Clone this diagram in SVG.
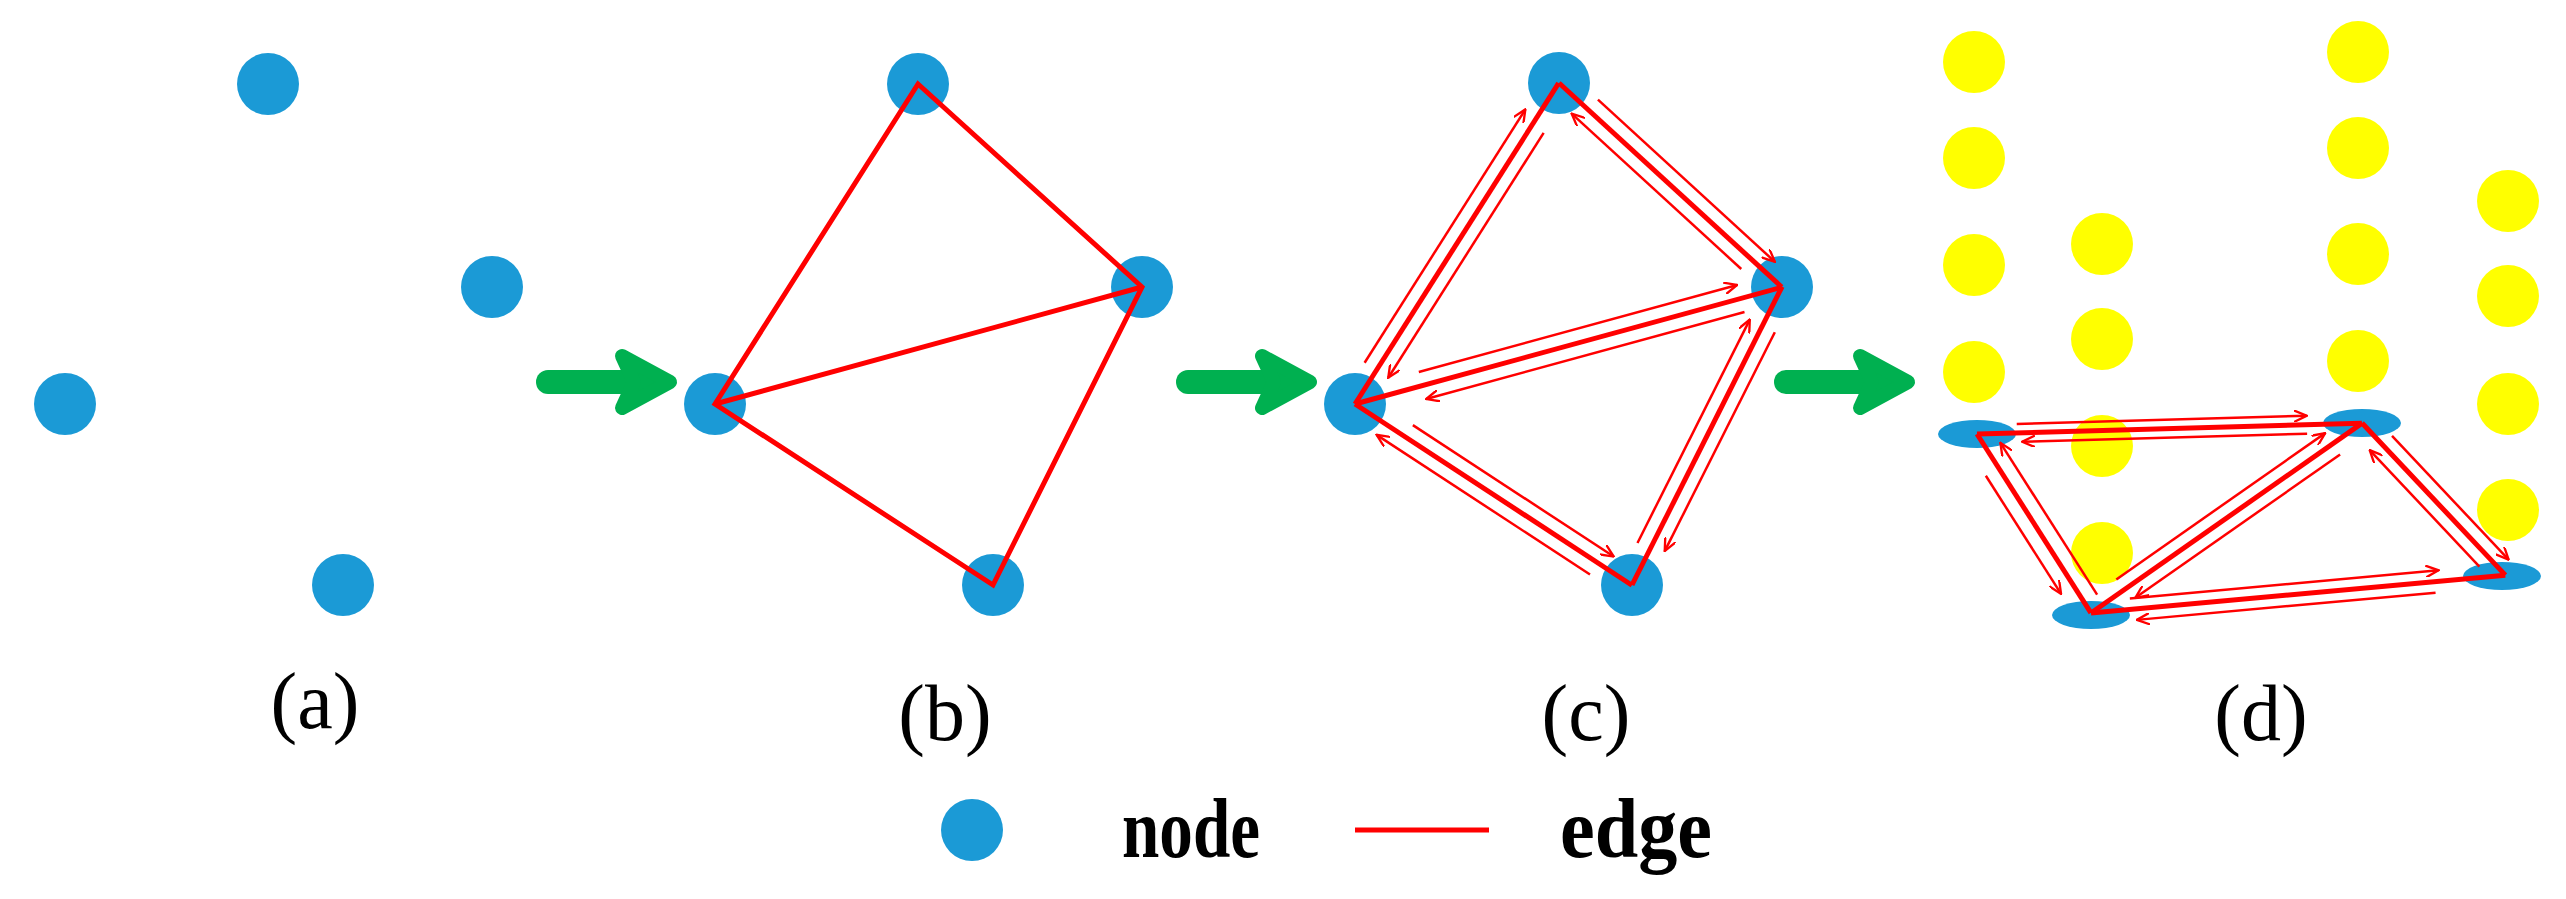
<svg xmlns="http://www.w3.org/2000/svg" width="2566" height="899" viewBox="0 0 2566 899">
<defs>
<style>
.n{fill:#1b9ad6}
.y{fill:#ffff00}
.e{stroke:#ff0000;stroke-width:5;fill:none;stroke-linejoin:miter}
.t{stroke:#ff0000;stroke-width:2.5;fill:none;marker-end:url(#ah)}
.g{stroke:#00b050;fill:#00b050;stroke-linejoin:round;stroke-linecap:round}
.lbl{font-family:"Liberation Serif",serif;font-size:80px;text-anchor:middle;fill:#000}
.leg{font-family:"Liberation Serif",serif;font-size:84px;font-weight:bold;fill:#000}
</style>
<marker id="ah" viewBox="0 0 12 10" refX="11" refY="5" markerWidth="14" markerHeight="12" markerUnits="userSpaceOnUse" orient="auto">
<path d="M0,0 L11,5 L0,10" fill="none" stroke="#ff0000" stroke-width="2"/>
</marker>
<g id="garrow">
<line class="g" x1="0" y1="0" x2="100" y2="0" stroke-width="24"/>
<polygon class="g" points="74,-26 122,0 74,26 86,0" stroke-width="14"/>
</g>
</defs>
<g id="panel-a">
<circle class="n" cx="268" cy="84" r="31"/>
<circle class="n" cx="492" cy="287" r="31"/>
<circle class="n" cx="65" cy="404" r="31"/>
<circle class="n" cx="343" cy="585" r="31"/>
<text class="lbl" x="315" y="728">(a)</text>
</g>
<g id="panel-b">
<circle class="n" cx="918" cy="84" r="31"/>
<circle class="n" cx="1142" cy="287" r="31"/>
<circle class="n" cx="715" cy="404" r="31"/>
<circle class="n" cx="993" cy="585" r="31"/>
<polygon class="e" points="715,404 918,84 1142,287 993,585"/>
<line class="e" x1="715" y1="404" x2="1142" y2="287"/>
<text class="lbl" x="945" y="740">(b)</text>
</g>
<g id="panel-c">
<circle class="n" cx="1559" cy="83" r="31"/>
<circle class="n" cx="1782" cy="287" r="31"/>
<circle class="n" cx="1355" cy="404" r="31"/>
<circle class="n" cx="1632" cy="585" r="31"/>
<text class="lbl" x="1586" y="740">(c)</text>
</g>
<g id="panel-d">
<circle class="y" cx="1974" cy="62" r="31"/>
<circle class="y" cx="1974" cy="158" r="31"/>
<circle class="y" cx="1974" cy="265" r="31"/>
<circle class="y" cx="1974" cy="372" r="31"/>
<circle class="y" cx="2102" cy="244" r="31"/>
<circle class="y" cx="2102" cy="339" r="31"/>
<circle class="y" cx="2102" cy="446" r="31"/>
<circle class="y" cx="2102" cy="553" r="31"/>
<circle class="y" cx="2358" cy="52" r="31"/>
<circle class="y" cx="2358" cy="148" r="31"/>
<circle class="y" cx="2358" cy="254" r="31"/>
<circle class="y" cx="2358" cy="361" r="31"/>
<circle class="y" cx="2508" cy="201" r="31"/>
<circle class="y" cx="2508" cy="296" r="31"/>
<circle class="y" cx="2508" cy="404" r="31"/>
<circle class="y" cx="2508" cy="510" r="31"/>
<ellipse class="n" cx="1977" cy="434" rx="39" ry="14"/>
<ellipse class="n" cx="2362" cy="423" rx="39" ry="14"/>
<ellipse class="n" cx="2091" cy="615" rx="39" ry="14"/>
<ellipse class="n" cx="2502" cy="576" rx="39" ry="14"/>
<text class="lbl" x="2261" y="740">(d)</text>
</g>
<g id="connectors">
<use href="#garrow" x="548" y="382"/>
<use href="#garrow" x="1188" y="382"/>
<use href="#garrow" x="1786" y="382"/>
<g transform="translate(1355,404) rotate(-57.6)">
<line class="e" x1="0" y1="0" x2="380" y2="0"/>
<line class="t" x1="40" y1="-14" x2="340" y2="-14"/>
<line class="t" x1="330" y1="14" x2="40" y2="14"/>
</g>
<g transform="translate(1559,83) rotate(42.5)">
<line class="e" x1="0" y1="0" x2="302" y2="0"/>
<line class="t" x1="40" y1="-14" x2="280" y2="-14"/>
<line class="t" x1="260" y1="14" x2="30" y2="14"/>
</g>
<g transform="translate(1355,404) rotate(-15.3)">
<line class="e" x1="0" y1="0" x2="443" y2="0"/>
<line class="t" x1="70" y1="-14" x2="400" y2="-14"/>
<line class="t" x1="400" y1="14" x2="70" y2="14"/>
</g>
<g transform="translate(1355,404) rotate(33.2)">
<line class="e" x1="0" y1="0" x2="331" y2="0"/>
<line class="t" x1="60" y1="-14" x2="300" y2="-14"/>
<line class="t" x1="290" y1="14" x2="35" y2="14"/>
</g>
<g transform="translate(1632,585) rotate(-63.3)">
<line class="e" x1="0" y1="0" x2="334" y2="0"/>
<line class="t" x1="40" y1="-14" x2="290" y2="-14"/>
<line class="t" x1="290" y1="14" x2="45" y2="14"/>
</g>
<g transform="translate(1977,434) rotate(-1.6)">
<line class="e" x1="0" y1="0" x2="385" y2="0"/>
<line class="t" x1="40" y1="-9" x2="330" y2="-9"/>
<line class="t" x1="330" y1="9" x2="45" y2="9"/>
</g>
<g transform="translate(1977,434) rotate(57.5)">
<line class="e" x1="0" y1="0" x2="212" y2="0"/>
<line class="t" x1="200" y1="-15" x2="20" y2="-15"/>
<line class="t" x1="40" y1="15" x2="180" y2="15"/>
</g>
<g transform="translate(2091,613) rotate(-35)">
<line class="e" x1="0" y1="0" x2="331" y2="0"/>
<line class="t" x1="40" y1="-13" x2="295" y2="-13"/>
<line class="t" x1="295" y1="13" x2="45" y2="13"/>
</g>
<g transform="translate(2362,423) rotate(46.7)">
<line class="e" x1="0" y1="0" x2="209" y2="0"/>
<line class="t" x1="30" y1="-13" x2="200" y2="-13"/>
<line class="t" x1="185" y1="13" x2="25" y2="13"/>
</g>
<g transform="translate(2091,613) rotate(-5.2)">
<line class="e" x1="0" y1="0" x2="416" y2="0"/>
<line class="t" x1="40" y1="-11" x2="350" y2="-11"/>
<line class="t" x1="345" y1="11" x2="45" y2="11"/>
</g>
</g>
<g id="legend">
<circle class="n" cx="972" cy="830" r="31"/>
<text class="leg" x="1122" y="857" textLength="138" lengthAdjust="spacingAndGlyphs">node</text>
<line x1="1355" y1="830" x2="1489" y2="830" stroke="#ff0000" stroke-width="5"/>
<text class="leg" x="1560" y="857" textLength="152" lengthAdjust="spacingAndGlyphs">edge</text>
</g>
</svg>
